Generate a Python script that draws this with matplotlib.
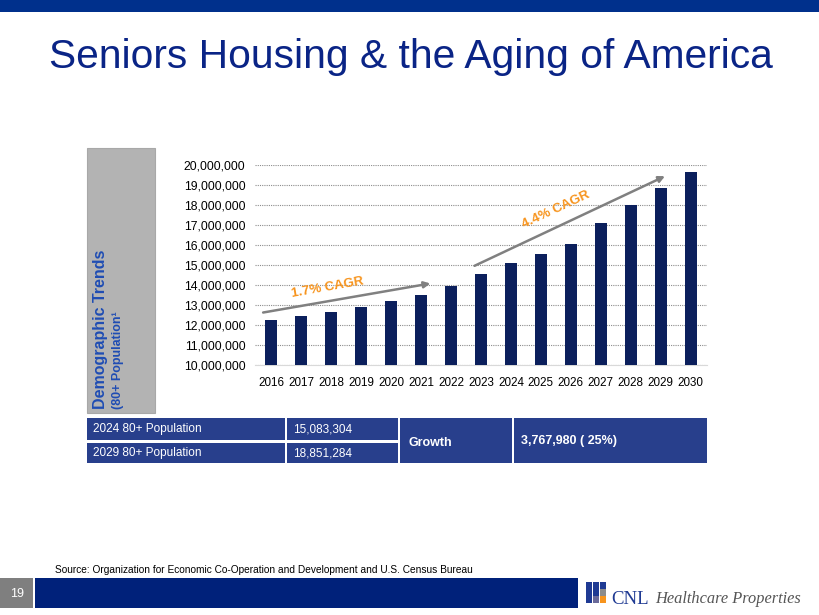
# Seniors Housing & the Aging of America - 80+ population bar chart

import matplotlib.pyplot as plt
from matplotlib.patches import Rectangle
from matplotlib.ticker import FuncFormatter

# data
years = [2016, 2017, 2018, 2019, 2020, 2021, 2022, 2023,
         2024, 2025, 2026, 2027, 2028, 2029, 2030]
population = [12230000, 12430000, 12670000, 12920000, 13200000, 13520000,
              13950000, 14570000, 15083304, 15570000, 16030000, 17120000,
              18000000, 18851284, 19670000]
table_labels = ['2024 80+ Population', '2029 80+ Population']
table_values = ['15,083,304', '18,851,284']
growth_label = 'Growth'
growth_value = '3,767,980 ( 25%)'

navy = '#0b1f5c'
cell_blue = '#283f8c'
title_blue = '#0a2486'
orange = '#f7941d'
font = 'Liberation Sans'
plt.rcParams['font.family'] = [font, 'DejaVu Sans']

fig = plt.figure(figsize=(8.2, 6.15), dpi=100)
W, H = 820, 615

def px_rect(x0, y0, x1, y1, **kw):
    # rectangle in pixel coords measured from the top-left
    fig.patches.append(Rectangle((x0 / W, 1 - y1 / H), (x1 - x0) / W, (y1 - y0) / H,
                                 transform=fig.transFigure, **kw))

def px_text(x, y, s, **kw):
    fig.text(x / W, 1 - y / H, s, **kw)

# top band and title
px_rect(0, 0, 820, 12, color='#00308c', lw=0)
px_text(411, 57, 'Seniors Housing & the Aging of America', ha='center', va='center',
        fontsize=29.3, color=title_blue)

# grey side panel with rotated label
px_rect(87, 148, 155, 413, facecolor='#b3b3b3', edgecolor='#a8a8a8', lw=0.8)
px_text(101, 409, 'Demographic Trends', rotation=90, ha='center', va='bottom',
        fontsize=11.5, fontweight='bold', color='#1f4db3')
px_text(118, 409, '(80+ Population\u00b9', rotation=90, ha='center', va='bottom',
        fontsize=9, fontweight='bold', color='#1f4db3')

# bar chart
ax = fig.add_axes([255 / W, 1 - 365 / H, 452 / W, 200 / H])
x = list(range(len(years)))
ax.bar(x, population, width=0.4, color=navy, zorder=3)
ax.set_ylim(10000000, 20000000)
ax.set_xlim(-0.55, 14.55)
ax.set_yticks(range(10000000, 20000001, 1000000))
ax.yaxis.set_major_formatter(FuncFormatter(lambda v, p: f'{int(v):,}'))
ax.set_xticks(x)
ax.set_xticklabels([str(y) for y in years])
ax.grid(axis='y', color='#8c8c8c', linestyle=(0, (1, 1)), linewidth=0.8, zorder=0)
for s in ['top', 'right', 'left']:
    ax.spines[s].set_visible(False)
ax.spines['bottom'].set_color('#d9d9d9')
ax.tick_params(length=0, labelsize=8.8, pad=7)
ax.tick_params(axis='x', pad=9, labelsize=8.4)

# CAGR arrows
ax.annotate('', xy=(5.4, 14100000), xytext=(-0.37, 12600000),
            arrowprops=dict(arrowstyle='-|>', color='#808080', lw=1.8, mutation_scale=9),
            zorder=5)
ax.annotate('', xy=(13.23, 19500000), xytext=(6.7, 14900000),
            arrowprops=dict(arrowstyle='-|>', color='#808080', lw=1.8, mutation_scale=9),
            zorder=5)
ax.text(1.87, 13850000, '1.7% CAGR', color=orange, fontsize=9.5, fontweight='bold',
        rotation=10, ha='center', va='center', zorder=6)
ax.text(9.5, 17750000, '4.4% CAGR', color=orange, fontsize=9.5, fontweight='bold',
        rotation=25, ha='center', va='center', zorder=6)

# table below the chart
rows_y = [(418, 440), (443, 463)]
for (y0, y1), lab, val in zip(rows_y, table_labels, table_values):
    px_rect(87, y0, 285, y1, color=cell_blue, lw=0)
    px_rect(287, y0, 398, y1, color=cell_blue, lw=0)
    px_text(93, (y0 + y1) / 2, lab, va='center', fontsize=8.5, color='white')
    px_text(293, (y0 + y1) / 2, val, va='center', fontsize=8.5, color='white')
px_rect(400, 418, 512, 463, color=cell_blue, lw=0)
px_rect(514, 418, 707, 463, color=cell_blue, lw=0)
px_text(409, 443, growth_label, va='center', fontsize=9, fontweight='bold', color='white')
px_text(521, 441, growth_value, va='center', fontsize=9, fontweight='bold', color='white')

# source + footer
px_text(55, 570, 'Source: Organization for Economic Co-Operation and Development and U.S. Census Bureau',
        va='center', fontsize=7.3, color='black')
px_rect(0, 578, 33, 608, color='#7f7f7f', lw=0)
px_text(17, 594, '19', ha='center', va='center', fontsize=9, color='white')
px_rect(35, 578, 578, 608, color='#00217a', lw=0)

# logo squares
logo = [(586, 582, '#1f3a93'), (593, 582, '#1f3a93'), (600, 582, '#1f3a93'),
        (586, 589, '#1f3a93'), (593, 589, '#1f3a93'), (600, 589, '#8c8c8c'),
        (586, 596, '#1f3a93'), (593, 596, '#6a6a9a'), (600, 596, '#f7941d')]
for lx, ly, c in logo:
    px_rect(lx, ly, lx + 6.5, ly + 6.5, color=c, lw=0)
px_text(611, 599, 'CNL', va='center', fontsize=13.5, family='Liberation Serif', color='#1f3a93')
px_text(655, 599, 'Healthcare Properties', va='center', fontsize=11.8, family='Liberation Serif',
        style='italic', color='#555555')

fig.savefig('out.png', dpi=100)
